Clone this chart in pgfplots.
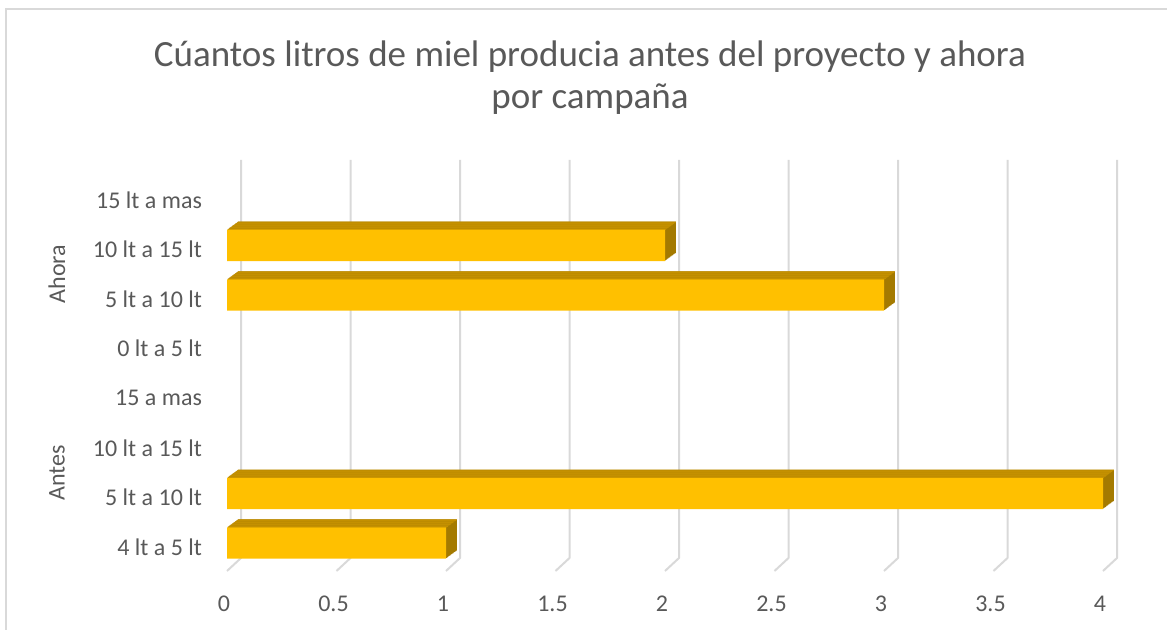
\documentclass[border=0pt]{standalone}
\usepackage{fontspec}
\setmainfont{Carlito}
\usepackage{pgfplots}
\pgfplotsset{compat=1.18}
\usepackage{pgfplotstable}
\definecolor{barfront}{HTML}{FFC000}
\definecolor{bartop}{HTML}{C49000}
\definecolor{barside}{HTML}{A47A00}
\definecolor{gridc}{HTML}{D9D9D9}
\definecolor{txt}{HTML}{595959}

% pos: 0..3 = Antes (4-5, 5-10, 10-15, 15+), 4..7 = Ahora (0-5, 5-10, 10-15, 15+)
% categories with value 0 (pos 2, 3, 4, 7) draw no bar
\pgfplotstableread{
pos val
0 1
1 4
5 3
6 2
}\bardata

\begin{document}
\begin{tikzpicture}
\useasboundingbox (0,0) rectangle (583.5pt,-315pt);
\draw[gridc, line width=0.75pt] (3pt,-316pt) -- (3pt,-4.5pt) -- (584pt,-4.5pt);
\node[txt, font=\fontsize{18.5}{22}\selectfont, anchor=base] at (295pt,-33.5pt) {Cúantos litros de miel producia antes del proyecto y ahora};
\node[txt, font=\fontsize{18.5}{22}\selectfont, anchor=base] at (295pt,-54.5pt) {por campaña};
\begin{axis}[
  at={(113.5pt,-285.5pt)}, anchor=south west,
  scale only axis, width=438pt, height=199pt,
  xmin=0, xmax=4, ymin=-0.5645, ymax=7.46,
  xbar,
  axis line style={draw=none},
  major tick length=0pt,
  xtick={0,0.5,1,1.5,2,2.5,3,3.5,4},
  xticklabels={0,0.5,1,1.5,2,2.5,3,3.5,4},
  ytick={0,1,2,3,4,5,6,7},
  yticklabels={4 lt a 5 lt,5 lt a 10 lt,10 lt a 15 lt,15 a mas,0 lt a 5 lt,5 lt a 10 lt,10 lt a 15 lt,15 lt a mas},
  tick label style={text=txt, font=\fontsize{12}{14}\selectfont},
  xticklabel style={yshift=-9pt, xshift=-1.5pt},
  yticklabel style={xshift=-9pt, yshift=-2pt},
  clip=false,
]
\pgfplotsinvokeforeach{0,0.5,1,1.5,2,2.5,3,3.5,4}{
  \draw[gridc, line width=1pt, line join=round] (axis cs:#1,-0.5645) -- ++(7pt,6.5pt) -- ++(0pt,199pt);
}
\pgfplotsinvokeforeach{1,...,12}{
  \addplot[bar width=15.65pt, fill=barside, draw=none, xshift=#1*0.4583pt, bar shift=#1*0.3333pt] table[x=val,y=pos]{\bardata};
}
\pgfplotsinvokeforeach{1,...,12}{
  \addplot[bar width=0.42pt, fill=bartop, draw=none, xshift=#1*0.4583pt, bar shift=7.825pt+#1*0.3333pt-0.1667pt] table[x=val,y=pos]{\bardata};
}
\addplot[bar width=15.65pt, fill=barfront, draw=none, bar shift=0pt] table[x=val,y=pos]{\bardata};
\node[text=txt, font=\fontsize{12}{14}\selectfont, rotate=90] at ([xshift=-85pt,yshift=-2pt]axis cs:0,5.5) {Ahora};
\node[text=txt, font=\fontsize{12}{14}\selectfont, rotate=90] at ([xshift=-85pt,yshift=-2pt]axis cs:0,1.5) {Antes};
\end{axis}
\end{tikzpicture}
\end{document}
